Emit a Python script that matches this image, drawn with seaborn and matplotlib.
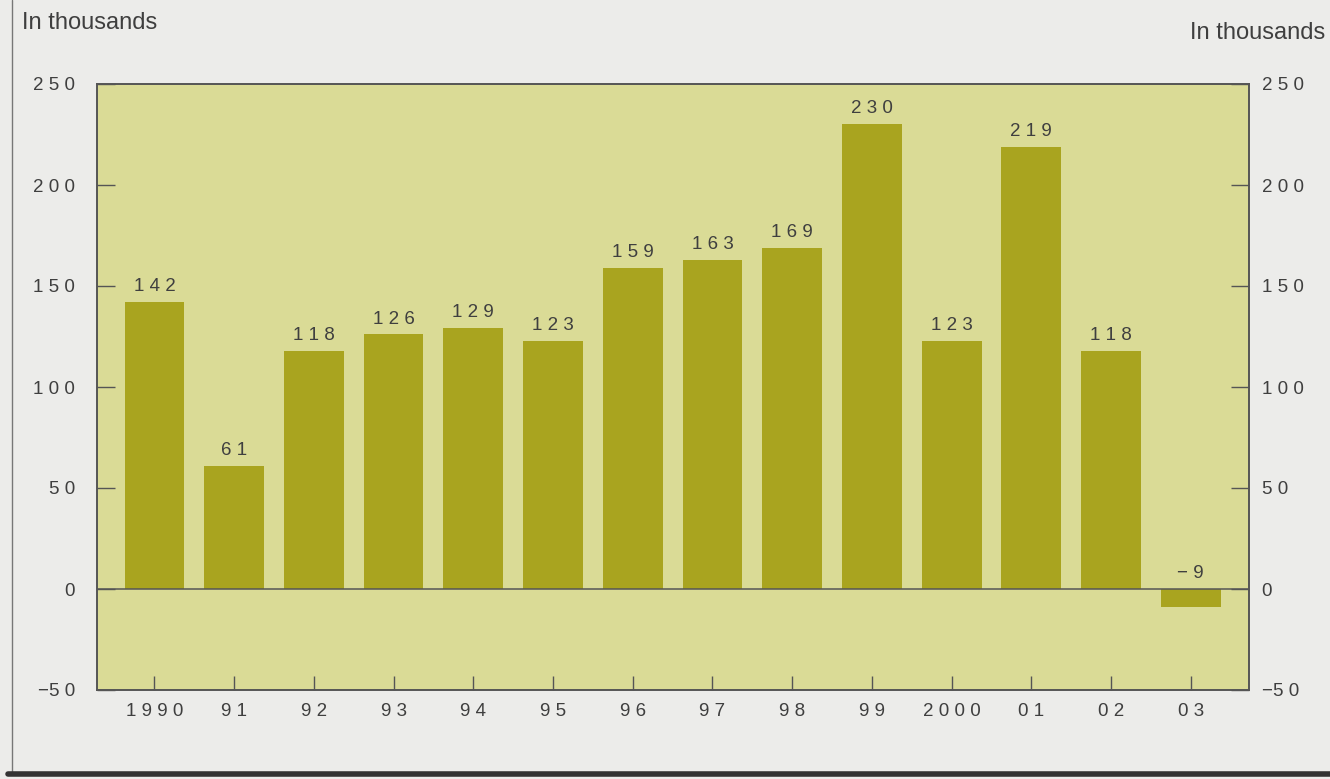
import matplotlib
matplotlib.use("Agg")
import matplotlib.pyplot as plt
from matplotlib.lines import Line2D
import seaborn as sns
import pandas as pd

years = ["1990", "91", "92", "93", "94", "95", "96", "97", "98", "99", "2000", "01", "02", "03"]
values = [142, 61, 118, 126, 129, 123, 159, 163, 169, 230, 123, 219, 118, -9]
y_ticks = [-50, 0, 50, 100, 150, 200, 250]
y_tick_labels = ["\u22125 0", "0", "5 0", "1 0 0", "1 5 0", "2 0 0", "2 5 0"]
unit_label = "In thousands"

BAR = "#a9a41f"
PANEL = "#dadb96"
FIG_BG = "#ececea"
TEXT = "#3f3f3f"
SPINE = "#555555"
NUM_FS = 13.5

sns.set_theme(style="white")
plt.rcParams["font.family"] = ["Liberation Sans", "DejaVu Sans"]

def spaced(s):
    return " ".join(s)

df = pd.DataFrame({"year": years, "value": values})

fig = plt.figure(figsize=(13.3, 7.79), dpi=100, facecolor=FIG_BG)
ax = fig.add_axes([97 / 1330, 1 - 690 / 779, (1249 - 97) / 1330, (690 - 84) / 779])
ax.set_facecolor(PANEL)

sns.barplot(data=df, x="year", y="value", order=years, color=BAR, width=0.75,
            saturation=1, ax=ax, edgecolor="none")

ax.set_xlim(-0.72, 13.73)
ax.set_ylim(-50, 250)
ax.axhline(0, color=SPINE, lw=1.1, zorder=3)

for i, v in enumerate(values):
    ax.annotate(spaced(str(v).replace("-", "\u2212")), xy=(i, max(v, 0)),
                xytext=(0, 5), textcoords="offset points", ha="center", va="bottom",
                fontsize=NUM_FS, color=TEXT)

ax.set_yticks(y_ticks)
ax.set_yticklabels(y_tick_labels)
ax.set_xticks(range(len(years)))
ax.set_xticklabels([spaced(y) for y in years])
ax.set_xlabel("")
ax.set_ylabel("")
ax.tick_params(axis="y", direction="in", length=13, width=1, color=SPINE,
               pad=16, labelsize=NUM_FS, labelcolor=TEXT, left=True)
ax.tick_params(axis="x", direction="in", length=10, width=1, color=SPINE,
               pad=9, labelsize=NUM_FS, labelcolor=TEXT, bottom=True)
for s in ax.spines.values():
    s.set_color(SPINE)
    s.set_linewidth(1.2)

ax2 = ax.twinx()
ax2.set_ylim(-50, 250)
ax2.set_yticks(y_ticks)
ax2.set_yticklabels(y_tick_labels)
ax2.tick_params(axis="y", direction="in", length=13, width=1, color=SPINE,
                pad=9, labelsize=NUM_FS, labelcolor=TEXT, right=True)
ax2.grid(False)
for s in ax2.spines.values():
    s.set_color(SPINE)
    s.set_linewidth(1.2)

fig.text(22 / 1330, 1 - 12 / 779, unit_label, ha="left", va="top", fontsize=17, color=TEXT)
fig.text(1325 / 1330, 1 - 22 / 779, unit_label, ha="right", va="top", fontsize=17, color=TEXT)

# page frame decorations
fig.add_artist(Line2D([12 / 1330, 12 / 1330], [1.0, 1 - 772 / 779], transform=fig.transFigure,
                      color="#777777", lw=1.0))
fig.add_artist(Line2D([8 / 1330, 1.0], [1 - 774 / 779, 1 - 774 / 779], transform=fig.transFigure,
                      color="#333333", lw=4))

fig.savefig("out.png", dpi=100, facecolor=FIG_BG)
